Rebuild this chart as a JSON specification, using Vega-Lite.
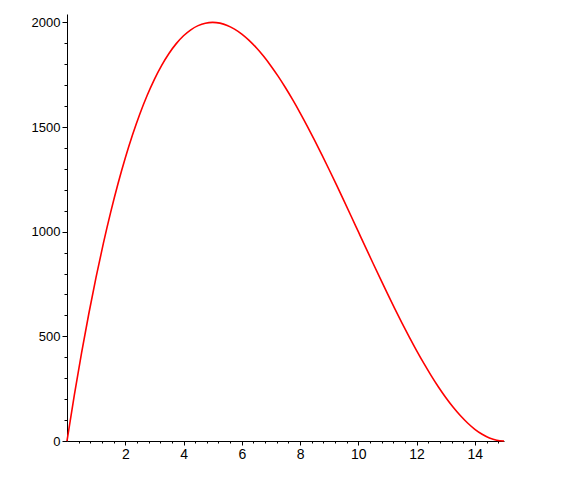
{
  "$schema": "https://vega.github.io/schema/vega-lite/v6.json",
  "width": 437,
  "height": 427,
  "autosize": {"type": "none"},
  "padding": {"left": 67, "top": 14, "right": 60, "bottom": 38},
  "background": "white",
  "config": {"view": {"stroke": null}},
  "data": {"values": [
    {"x": 0, "y": 0}, {"x": 0.25, "y": 217.56}, {"x": 0.5, "y": 420.5}, {"x": 0.75, "y": 609.19},
    {"x": 1, "y": 784}, {"x": 1.25, "y": 945.31}, {"x": 1.5, "y": 1093.5}, {"x": 1.75, "y": 1228.94},
    {"x": 2, "y": 1352}, {"x": 2.25, "y": 1463.06}, {"x": 2.5, "y": 1562.5}, {"x": 2.75, "y": 1650.69},
    {"x": 3, "y": 1728}, {"x": 3.25, "y": 1794.81}, {"x": 3.5, "y": 1851.5}, {"x": 3.75, "y": 1898.44},
    {"x": 4, "y": 1936}, {"x": 4.25, "y": 1964.56}, {"x": 4.5, "y": 1984.5}, {"x": 4.75, "y": 1996.19},
    {"x": 5, "y": 2000}, {"x": 5.25, "y": 1996.31}, {"x": 5.5, "y": 1985.5}, {"x": 5.75, "y": 1967.94},
    {"x": 6, "y": 1944}, {"x": 6.25, "y": 1914.06}, {"x": 6.5, "y": 1878.5}, {"x": 6.75, "y": 1837.69},
    {"x": 7, "y": 1792}, {"x": 7.25, "y": 1741.81}, {"x": 7.5, "y": 1687.5}, {"x": 7.75, "y": 1629.44},
    {"x": 8, "y": 1568}, {"x": 8.25, "y": 1503.56}, {"x": 8.5, "y": 1436.5}, {"x": 8.75, "y": 1367.19},
    {"x": 9, "y": 1296}, {"x": 9.25, "y": 1223.31}, {"x": 9.5, "y": 1149.5}, {"x": 9.75, "y": 1074.94},
    {"x": 10, "y": 1000}, {"x": 10.25, "y": 925.06}, {"x": 10.5, "y": 850.5}, {"x": 10.75, "y": 776.69},
    {"x": 11, "y": 704}, {"x": 11.25, "y": 632.81}, {"x": 11.5, "y": 563.5}, {"x": 11.75, "y": 496.44},
    {"x": 12, "y": 432}, {"x": 12.25, "y": 370.56}, {"x": 12.5, "y": 312.5}, {"x": 12.75, "y": 258.19},
    {"x": 13, "y": 208}, {"x": 13.25, "y": 162.31}, {"x": 13.5, "y": 121.5}, {"x": 13.75, "y": 85.94},
    {"x": 14, "y": 56}, {"x": 14.25, "y": 32.06}, {"x": 14.5, "y": 14.5}, {"x": 14.75, "y": 3.69},
    {"x": 15, "y": 0}
  ]},
  "mark": {"type": "line", "color": "#ff0000", "strokeWidth": 1.6, "interpolate": "monotone"},
  "encoding": {
    "x": {
      "field": "x", "type": "quantitative",
      "scale": {"domain": [0, 15], "nice": false, "zero": false},
      "axis": {
        "title": null, "grid": false,
        "domainColor": "black", "domainWidth": 1,
        "values": [0.4, 0.8, 1.2, 1.6, 2, 2.4, 2.8, 3.2, 3.6, 4, 4.4, 4.8, 5.2, 5.6, 6, 6.4, 6.8, 7.2, 7.6, 8, 8.4, 8.8, 9.2, 9.6, 10, 10.4, 10.8, 11.2, 11.6, 12, 12.4, 12.8, 13.2, 13.6, 14, 14.4, 14.8],
        "labelExpr": "abs(datum.value/2 - round(datum.value/2)) < 0.01 ? format(datum.value, 'd') : ''",
        "tickColor": "black",
        "tickSize": {"condition": {"test": "abs(datum.value/2 - round(datum.value/2)) < 0.01", "value": 4}, "value": 2},
        "labelPadding": 2,
        "labelFont": "Liberation Sans", "labelFontSize": 14, "labelColor": "black",
        "labelFlush": false, "labelOverlap": false
      }
    },
    "y": {
      "field": "y", "type": "quantitative",
      "scale": {"domain": [0, 2040], "nice": false},
      "axis": {
        "title": null, "grid": false,
        "domainColor": "black", "domainWidth": 1,
        "values": [0, 100, 200, 300, 400, 500, 600, 700, 800, 900, 1000, 1100, 1200, 1300, 1400, 1500, 1600, 1700, 1800, 1900, 2000],
        "labelExpr": "datum.value % 500 === 0 ? format(datum.value, 'd') : ''",
        "tickColor": "black",
        "tickSize": {"condition": {"test": "datum.value % 500 === 0", "value": 5}, "value": 3},
        "labelPadding": 2,
        "labelFont": "Liberation Sans", "labelFontSize": 13, "labelColor": "black",
        "labelFlush": false, "labelOverlap": false
      }
    }
  }
}
